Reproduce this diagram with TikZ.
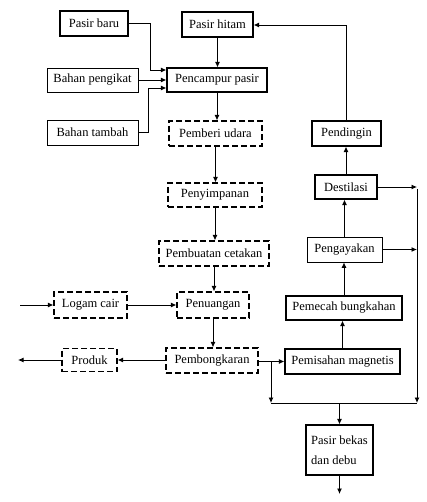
\documentclass[tikz,border=0pt]{standalone}
\usepackage{fontspec}
\setmainfont{Liberation Serif}
\usetikzlibrary{arrows.meta,calc}
\tikzset{
  box/.style={draw, line width=1.2pt, inner sep=0pt, font=\fontsize{12.5}{14}\selectfont},
  dbox/.style={box, dash pattern=on 6pt off 3pt},
  lbox/.style={box, line width=0.7pt},
  arr/.style={line width=0.9pt, -{Latex[length=5.5pt,width=5pt]}},
  ln/.style={line width=0.9pt},
}
\begin{document}
\begin{tikzpicture}[x=1pt,y=-1pt]
\useasboundingbox (0,0) rectangle (426,502);
% boxes
\node[box,  minimum width=68pt,  minimum height=25pt] (pasirbaru)   at (94,23.5)   {Pasir baru};
\node[box,  minimum width=71pt,  minimum height=25pt] (pasirhitam)  at (217.5,24.5) {Pasir hitam};
\node[lbox, minimum width=91pt,  minimum height=24pt] (pengikat)    at (92.5,80)   {Bahan pengikat};
\node[box,  minimum width=100pt, minimum height=24pt] (pencampur)   at (217,80)    {Pencampur pasir};
\node[lbox, minimum width=91pt,  minimum height=25pt] (tambah)      at (92.5,132.5) {Bahan tambah};
\node[dbox, minimum width=93pt,  minimum height=25pt] (pemberi)     at (215.5,133.5) {Pemberi udara};
\node[box,  minimum width=69pt,  minimum height=25pt] (pendingin)   at (346.5,133.5) {Pendingin};
\node[box,  minimum width=62pt,  minimum height=24pt] (destilasi)   at (346,187)   {Destilasi};
\node[dbox, minimum width=94pt,  minimum height=24pt] (penyimpanan) at (215,195)   {Penyimpanan};
\node[lbox, minimum width=75pt,  minimum height=25pt] (pengayakan)  at (344.5,249.5) {Pengayakan};
\node[dbox, minimum width=110pt, minimum height=25pt] (pembuatan)   at (214,253.5) {Pembuatan cetakan};
\node[dbox, minimum width=73pt,  minimum height=26pt] (logam)       at (90.5,305)  {Logam cair};
\node[dbox, minimum width=72pt,  minimum height=26pt] (penuangan)   at (213,305)   {Penuangan};
\node[box,  minimum width=116pt, minimum height=24pt] (pemecah)     at (344,308)   {Pemecah bungkahan};
\node[dbox, minimum width=55pt,  minimum height=23pt] (produk)      at (89.5,360) {Produk};
\node[dbox, minimum width=92pt,  minimum height=25pt] (pembongkaran) at (212,360.5) {Pembongkaran};
\node[box,  minimum width=115pt, minimum height=25pt] (pemisahan)   at (342.5,361.5) {Pemisahan magnetis};
\node[box,  minimum width=67pt,  minimum height=50pt, align=left] (bekas) at (339.5,450) {Pasir bekas\\[6pt]dan debu};
% helper coordinates
\coordinate (jb) at (150,70);
\coordinate (jt) at (148,88);
\coordinate (inL) at (20,305);
\coordinate (outP) at (18,360);
\coordinate (rv) at (417,189);
\coordinate (hbL) at (271,403);
\coordinate (hbR) at (417,403);
\coordinate (sp) at (271,361.5);
\coordinate (outB) at (339.5,494);
\coordinate (tp) at (346.5,25);
% inputs to mixer
\draw[arr] (pasirbaru.east) -| (jb) -- (jb -| pencampur.west);
\draw[arr] (pengikat.east) -- (pencampur.west);
\draw[arr] (tambah.east) -| (jt) -- (jt -| pencampur.west);
\draw[arr] (pasirhitam.south) -- (pasirhitam.south |- pencampur.north);
% main column
\draw[arr] (pencampur.south) -- (pencampur.south |- pemberi.north);
\draw[arr] (pemberi.south) -- (pemberi.south |- penyimpanan.north);
\draw[arr] (penyimpanan.south) -- (penyimpanan.south |- pembuatan.north);
\draw[arr] (pembuatan.south) -- (pembuatan.south |- penuangan.north);
\draw[arr] (penuangan.south) -- (penuangan.south |- pembongkaran.north);
% molten metal
\draw[arr] (inL) -- (logam.west);
\draw[arr] (logam.east) -- (penuangan.west);
% product
\draw[arr] (pembongkaran.west |- produk.east) -- (produk.east);
\draw[arr] (produk.west) -- (outP);
% return sand
\draw[arr] (pembongkaran.east |- pemisahan.west) -- (pemisahan.west);
\draw[arr] (sp) -- (hbL);
\draw[ln] (hbL) -- (hbR);
\draw[arr] (pemisahan.north) -- (pemisahan.north |- pemecah.south);
\draw[arr] (pemecah.north) -- (pemecah.north |- pengayakan.south);
\draw[arr] (pengayakan.north) -- (pengayakan.north |- destilasi.south);
\draw[arr] (destilasi.north) -- (destilasi.north |- pendingin.south);
\draw[arr] (pendingin.north) -- (tp) -- (pasirhitam.east |- tp);
\draw[arr] (destilasi.east) -- (destilasi.east -| rv);
\draw[arr] (pengayakan.east) -- (pengayakan.east -| rv);
\draw[arr] (rv) -- (hbR);
\draw[arr] (bekas.north |- hbL) -- (bekas.north);
\draw[arr] (bekas.south) -- (outB);
\end{tikzpicture}
\end{document}
